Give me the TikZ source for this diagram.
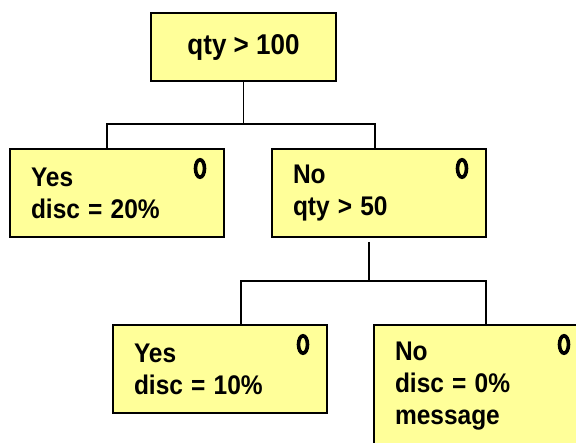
\documentclass[tikz,border=0pt]{standalone}
\usepackage{fontspec}
\setmainfont{Liberation Sans}
\usetikzlibrary{shapes.geometric}
\definecolor{boxfill}{RGB}{255,255,153}
\newcommand{\tl}[1]{\scalebox{1}[1.1]{#1}}
\begin{document}
\begin{tikzpicture}[x=1pt,y=-1pt,
  box/.style={draw=black, line width=2pt, fill=boxfill, anchor=north west,
    inner xsep=21pt, inner ysep=0pt, text width=172pt, align=left,
    minimum height=88pt, font=\fontsize{24.5}{32}\selectfont\bfseries},
  rootbox/.style={draw=black, line width=2pt, fill=boxfill, anchor=north west,
    inner sep=0pt, minimum width=185pt, minimum height=68pt, align=center,
    font=\fontsize{26}{32}\selectfont\bfseries},
  zeromark/.style={draw=black, line width=3.6pt, ellipse, inner sep=0pt,
    minimum width=9pt, minimum height=17.5pt},
  conn/.style={draw=black, line width=1.8pt}]
\useasboundingbox (0,0) rectangle (576,443);
\node[rootbox] (root) at (150,12) {\tl{qty > 100}};
\node[box] (yes1) at (9,148) {\tl{Yes}\\\tl{disc = 20\%}};
\node[box] (no1) at (271,148) {\tl{No}\\\tl{qty > 50}};
\node[box] (yes2) at (112,324) {\tl{Yes}\\\tl{disc = 10\%}};
\node[box, minimum height=122pt] (no2) at (373,324) {\tl{No}\\\tl{disc = 0\%}\\\tl{message}};
\node[zeromark] (m1) at ([xshift=-25pt,yshift=-20.5pt]yes1.north east) {};
\node[zeromark] (m2) at ([xshift=-25pt,yshift=-20.5pt]no1.north east) {};
\node[zeromark] (m3) at ([xshift=-25pt,yshift=-20.5pt]yes2.north east) {};
\node[zeromark] (m4) at ([xshift=-25pt,yshift=-20.5pt]no2.north east) {};
\coordinate (j1) at (107,124);
\coordinate (j2) at (375,124);
\coordinate (k0) at (369,242);
\coordinate (k1) at (241,281);
\coordinate (k2) at (486,281);
\draw[conn] (root.south) -- (root.south |- j1);
\draw[conn] (yes1.north -| j1) -- (j1) -- (j2) -- (no1.north -| j2);
\draw[conn] (k0) -- (k0 |- k1);
\draw[conn] (yes2.north -| k1) -- (k1) -- (k2) -- (no2.north -| k2);
\end{tikzpicture}
\end{document}
